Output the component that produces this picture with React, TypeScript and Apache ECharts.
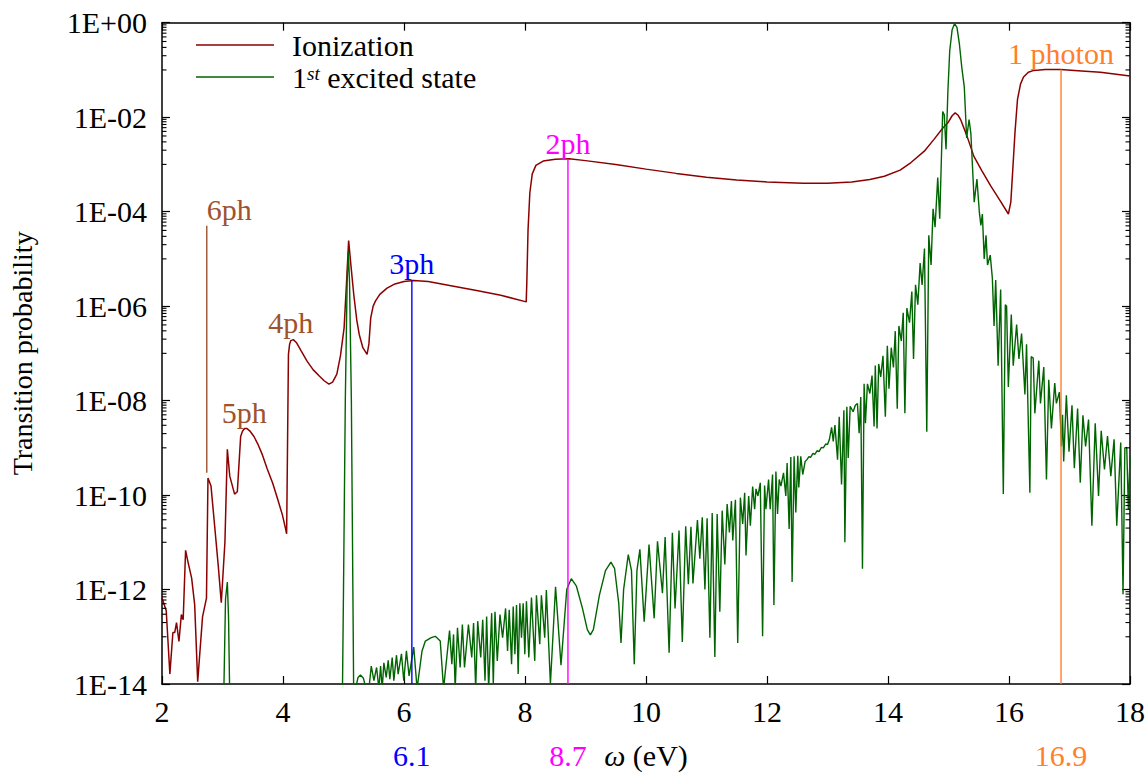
import React, { useEffect, useRef } from "react";
import * as echarts from "echarts";

// ---------- data: [omega (eV), log10(transition probability)] ----------
const ionization: number[][] = [
  [2.0, -12.18], [2.07, -12.45], [2.13, -13.79], [2.18, -12.91], [2.21, -12.91], [2.24, -12.7], [2.28, -13.1],
  [2.32, -12.53], [2.35, -12.64], [2.39, -11.17], [2.43, -11.42], [2.49, -11.76], [2.54, -12.32], [2.59, -13.95],
  [2.67, -12.58], [2.735, -12.18], [2.76, -9.64], [2.81, -9.81], [2.87, -10.65], [2.93, -11.5], [2.98, -12.28],
  [3.04, -11.0], [3.08, -9.03], [3.12, -9.6], [3.2, -9.98], [3.245, -9.93], [3.3, -8.76], [3.33, -8.65],
  [3.365, -8.59], [3.4, -8.59], [3.45, -8.64], [3.52, -8.76], [3.58, -8.91], [3.66, -9.15], [3.74, -9.45],
  [3.83, -9.75], [3.91, -10.08], [3.99, -10.42], [4.04, -10.7], [4.06, -10.82], [4.09, -7.02], [4.11, -6.8],
  [4.13, -6.73], [4.17, -6.71], [4.22, -6.77], [4.3, -6.95], [4.4, -7.17], [4.5, -7.35], [4.6, -7.48],
  [4.68, -7.58], [4.76, -7.65], [4.82, -7.61], [4.89, -7.44], [4.95, -7.05], [5.01, -6.46], [5.05, -5.5],
  [5.085, -4.61], [5.12, -5.1], [5.17, -5.76], [5.22, -6.3], [5.26, -6.6], [5.32, -6.88], [5.39, -7.02],
  [5.42, -6.8], [5.45, -6.25], [5.49, -6.0], [5.53, -5.89], [5.6, -5.75], [5.72, -5.62], [5.85, -5.53],
  [6.0, -5.48], [6.16, -5.46], [6.4, -5.48], [6.82, -5.58], [7.2, -5.67], [7.6, -5.77], [8.02, -5.91],
  [8.03, -5.5], [8.05, -4.4], [8.08, -3.6], [8.12, -3.2], [8.18, -3.02], [8.3, -2.93], [8.5, -2.89],
  [8.73, -2.88], [9.0, -2.92], [9.5, -3.0], [10.0, -3.1], [10.5, -3.19], [11.0, -3.27], [11.5, -3.33],
  [12.0, -3.37], [12.6, -3.4], [13.0, -3.4], [13.4, -3.37], [13.7, -3.32], [13.94, -3.25], [14.2, -3.12],
  [14.38, -2.96], [14.6, -2.72], [14.76, -2.47], [14.9, -2.24], [14.99, -2.12], [15.06, -1.97], [15.11, -1.91],
  [15.16, -1.96], [15.2, -2.05], [15.3, -2.38], [15.42, -2.83], [15.55, -3.13], [15.7, -3.46], [15.85, -3.76],
  [15.99, -4.05], [16.03, -3.8], [16.06, -3.16], [16.1, -2.3], [16.14, -1.63], [16.19, -1.3], [16.24, -1.15],
  [16.32, -1.05], [16.41, -1.01], [16.6, -0.99], [16.85, -0.99], [17.2, -1.02], [17.51, -1.05], [18.0, -1.13],
];

const excited: number[][] = [
  [2.0, -20], [2.99, -20], [3.02, -14.3], [3.05, -12.2], [3.08, -11.84], [3.1, -12.6], [3.12, -14.3], [3.15, -20],
  [4.95, -20], [4.98, -14.5], [5.0, -12.0], [5.03, -8.0], [5.06, -5.5], [5.08, -4.85], [5.1, -5.5], [5.13, -8.0],
  [5.155, -12.0], [5.17, -14.5], [5.2, -14.1], [5.24, -13.86], [5.28, -13.81], [5.33, -13.88], [5.37, -14.1],
  [5.42, -14.1], [5.459, -13.62], [5.503, -13.93], [5.547, -13.65], [5.585, -14.1], [5.613, -13.62], [5.64, -14.1],
  [5.667, -13.55], [5.706, -13.86], [5.739, -13.5], [5.766, -13.9], [5.805, -13.44], [5.832, -13.93], [5.876, -13.39],
  [5.903, -13.79], [5.958, -13.36], [5.996, -13.93], [6.04, -13.3], [6.084, -13.83], [6.161, -13.22], [6.216, -14.1],
  [6.298, -13.3], [6.353, -13.09], [6.45, -13.02], [6.517, -12.99], [6.599, -13.09], [6.654, -14.1],
  [6.753, -12.87], [6.791, -13.58], [6.819, -12.95], [6.846, -14.1], [6.884, -12.81], [6.928, -13.65], [6.965, -12.74],
  [7.0, -13.65], [7.065, -12.74], [7.12, -13.44], [7.15, -12.71], [7.185, -14.1], [7.218, -12.67], [7.268, -13.44],
  [7.301, -12.64], [7.339, -13.93], [7.366, -12.57], [7.399, -14.1], [7.449, -12.5], [7.476, -14.0], [7.504, -12.47],
  [7.542, -13.51], [7.586, -12.53], [7.63, -13.02], [7.679, -12.4], [7.712, -13.3], [7.739, -12.43], [7.778, -13.58],
  [7.805, -12.36], [7.833, -13.37], [7.86, -12.33], [7.887, -13.79], [7.915, -12.29], [7.942, -13.02], [7.97, -12.29],
  [7.997, -13.37], [8.024, -12.25], [8.063, -13.44], [8.107, -12.17], [8.161, -13.51], [8.189, -12.12], [8.244, -13.16],
  [8.271, -12.12], [8.326, -13.02], [8.353, -12.01], [8.42, -14.0], [8.505, -11.94], [8.595, -13.6], [8.69, -12.0],
  [8.765, -11.77], [8.85, -11.93], [8.95, -12.4], [9.03, -12.85], [9.08, -12.96], [9.13, -12.85], [9.23, -12.12],
  [9.33, -11.6], [9.42, -11.42], [9.48, -11.55], [9.55, -12.3], [9.587, -13.13], [9.63, -12.0], [9.707, -11.26],
  [9.76, -11.6], [9.806, -13.58], [9.85, -11.6], [9.899, -11.15], [9.97, -12.68], [10.05, -11.05], [10.135, -12.61],
  [10.19, -10.98], [10.272, -12.08], [10.316, -10.89], [10.382, -13.34], [10.436, -10.8], [10.48, -12.4],
  [10.546, -10.75], [10.6, -13.11], [10.656, -10.66], [10.7, -11.89], [10.743, -10.67], [10.776, -11.87],
  [10.85, -10.53], [10.89, -11.35], [10.93, -10.47], [10.974, -12.0], [11.01, -10.49], [11.056, -13.02],
  [11.094, -10.38], [11.138, -13.43], [11.176, -10.4], [11.22, -12.47], [11.259, -10.33], [11.303, -11.47],
  [11.341, -10.19], [11.379, -10.79], [11.412, -10.125], [11.434, -10.96], [11.478, -10.1], [11.516, -13.13],
  [11.56, -10.055], [11.598, -10.61], [11.631, -9.95], [11.653, -11.28], [11.697, -10.02], [11.725, -10.65],
  [11.763, -9.82], [11.796, -10.3], [11.818, -9.87], [11.85, -10.02], [11.889, -9.74], [11.927, -12.99],
  [11.96, -9.8], [11.982, -10.3], [12.026, -9.67], [12.053, -10.3], [12.092, -9.565], [12.114, -12.33],
  [12.147, -9.5], [12.174, -10.4], [12.202, -9.67], [12.23, -9.81], [12.273, -9.53], [12.311, -10.02],
  [12.333, -9.32], [12.366, -10.72], [12.394, -9.195], [12.415, -11.84], [12.448, -9.18], [12.476, -10.37],
  [12.509, -9.167], [12.525, -9.84], [12.558, -9.18], [12.591, -9.565], [12.63, -9.29], [12.66, -9.25],
  [12.69, -9.19], [12.72, -9.2], [12.76, -9.12], [12.79, -9.14], [12.83, -9.06], [12.86, -9.08], [12.9, -8.99],
  [12.93, -9.0], [12.97, -8.92], [13.0, -8.93], [13.03, -8.83], [13.068, -8.566], [13.095, -8.866], [13.123, -8.517],
  [13.166, -9.25], [13.194, -8.342], [13.232, -9.775], [13.271, -8.203], [13.287, -11.0], [13.32, -8.133],
  [13.342, -9.216], [13.375, -8.119], [13.424, -8.237], [13.46, -8.1], [13.495, -8.063], [13.523, -8.692],
  [13.55, -7.923], [13.578, -11.56], [13.605, -7.645], [13.627, -8.48], [13.66, -7.645], [13.7, -7.85],
  [13.736, -7.47], [13.77, -8.55], [13.79, -7.26], [13.819, -8.59], [13.846, -7.225], [13.88, -7.5],
  [13.917, -7.05], [13.956, -8.34], [13.989, -6.84], [14.016, -7.75], [14.054, -6.88], [14.09, -7.3],
  [14.12, -6.53], [14.153, -8.17], [14.18, -6.42], [14.22, -6.74], [14.252, -6.14], [14.279, -8.27],
  [14.312, -6.04], [14.356, -6.35], [14.394, -5.69], [14.422, -7.12], [14.455, -5.55], [14.493, -5.97],
  [14.531, -5.09], [14.564, -5.55], [14.603, -4.78], [14.641, -8.66], [14.674, -4.5], [14.712, -5.13],
  [14.745, -3.94], [14.778, -4.33], [14.822, -3.28], [14.855, -4.15], [14.904, -1.88], [14.93, -1.95],
  [14.959, -2.68], [14.99, -1.45], [15.02, -0.6], [15.06, -0.15], [15.1, -0.02], [15.14, -0.1], [15.18, -0.45],
  [15.22, -0.95], [15.261, -1.36], [15.3, -2.44], [15.34, -2.05], [15.37, -2.35], [15.425, -3.8], [15.47, -3.31],
  [15.51, -4.01], [15.535, -4.29], [15.56, -4.05], [15.59, -5.0], [15.62, -4.5], [15.645, -5.13], [15.69, -4.92],
  [15.725, -5.41], [15.753, -6.42], [15.78, -5.45], [15.82, -7.26], [15.862, -5.65], [15.906, -9.98],
  [15.939, -5.97], [15.96, -6.0], [15.989, -7.71], [16.038, -6.18], [16.07, -7.26], [16.126, -6.39],
  [16.164, -7.12], [16.208, -6.58], [16.263, -7.87], [16.29, -6.81], [16.345, -9.95], [16.367, -7.07],
  [16.4, -7.1], [16.427, -8.27], [16.493, -7.155], [16.52, -8.06], [16.575, -7.29], [16.619, -9.67],
  [16.657, -7.56], [16.701, -8.59], [16.756, -7.63], [16.783, -8.06], [16.833, -7.82], [16.866, -8.97],
  [16.885, -8.3], [16.904, -9.29], [16.948, -7.89], [16.992, -9.08], [17.041, -8.1], [17.08, -9.43],
  [17.134, -8.17], [17.178, -9.74], [17.222, -8.31], [17.266, -8.97], [17.315, -8.4], [17.37, -10.65],
  [17.425, -8.48], [17.48, -10.02], [17.524, -8.64], [17.578, -9.46], [17.628, -8.75], [17.683, -9.6],
  [17.737, -8.82], [17.781, -10.65], [17.847, -8.89], [17.885, -12.1], [17.915, -9.0], [17.946, -8.99],
  [17.973, -10.3], [18.0, -9.2],
];

// vertical photon-order markers
const markerOmega = [2.74, 6.13, 8.71, 16.86];
const markerLowLog = [-9.53, -14, -14, -14];
const markerHighLog = [-4.3, -5.44, -2.89, -0.99];
const markerTopLabels = ["6ph", "3ph", "2ph", "1 photon"];
const markerAxisLabels = ["", "6.1", "8.7", "16.9"];
const markerColors = ["#a0522d", "#0000ff", "#ff00ff", "#ff7f2a"];

// free annotations
const noteOmega = [3.36, 4.13];
const noteLog = [-8.26, -6.35];
const noteLabels = ["5ph", "4ph"];

// axis ticks
const xTickValues = [2, 4, 6, 8, 10, 12, 14, 16, 18];
const yMajorExponents = [-14, -12, -10, -8, -6, -4, -2, 0];
const yMinorMantissas = [1, 2, 3, 4, 5, 6, 7, 8, 9];
const yMinorExponents = [-13, -11, -9, -7, -5, -3, -1];

const FONT = "'Liberation Serif', 'DejaVu Serif', serif";
const FS = 30;

function formatExp(v: number): string {
  const e = Math.round(Math.log10(v));
  const s = e < 0 ? "-" : "+";
  const a = Math.abs(e);
  return "1E" + s + (a < 10 ? "0" + a : String(a));
}

export default function App() {
  const ref = useRef<HTMLDivElement>(null);

  useEffect(() => {
    if (!ref.current) return;
    const chart = echarts.init(ref.current, null, { renderer: "svg" });

    const toPts = (arr: number[][]) => arr.map((p) => [p[0], Math.pow(10, p[1])]);
    const minorData: number[][] = [];
    yMinorExponents.forEach((e) =>
      yMinorMantissas.forEach((m) => minorData.push([xTickValues[0], m * Math.pow(10, e)]))
    );
    const markerData = markerOmega.map((x, i) => [x, Math.pow(10, markerLowLog[i]), Math.pow(10, markerHighLog[i])]);
    const noteData = noteOmega.map((x, i) => [x, Math.pow(10, noteLog[i])]);

    const axisLineStyle = { color: "#000", width: 1.5 };
    const tickStyle = { color: "#000", width: 1.2 };
    const yMin = Math.pow(10, yMajorExponents[0]);
    const yMax = Math.pow(10, yMajorExponents[yMajorExponents.length - 1]);

    const option: any = {
      animation: false,
      backgroundColor: "#ffffff",
      textStyle: { fontFamily: FONT },
      grid: { left: 158.5, right: 18, top: 22.7, bottom: 84, containLabel: false },
      legend: {
        data: ["Ionization", "1st excited state"],
        orient: "vertical",
        left: 196,
        top: 30,
        padding: 0,
        itemGap: 2,
        itemWidth: 78,
        itemHeight: 1.6,
        icon: "rect",
        selectedMode: false,
        formatter: (name: string) =>
          name === "Ionization" ? "{g|}Ionization" : "{g|}1{sup|st} excited state",
        textStyle: {
          fontFamily: FONT,
          fontSize: FS,
          lineHeight: 26,
          color: "#000",
          rich: {
            g: { width: 13 },
            sup: { fontFamily: FONT, fontSize: 19, fontStyle: "italic", verticalAlign: "top", lineHeight: 16, color: "#000" },
          },
        },
      },
      xAxis: [
        {
          type: "value",
          min: xTickValues[0],
          max: xTickValues[xTickValues.length - 1],
          interval: 2,
          position: "bottom",
          name: "{i|ω} (eV)",
          nameLocation: "middle",
          nameGap: 56,
          nameTextStyle: {
            fontFamily: FONT,
            fontSize: FS,
            color: "#000",
            rich: { i: { fontFamily: FONT, fontSize: FS, fontStyle: "italic", color: "#000" } },
          },
          axisLine: { show: true, lineStyle: axisLineStyle },
          axisTick: { show: true, inside: true, length: 8, lineStyle: tickStyle },
          axisLabel: { fontFamily: FONT, fontSize: FS, color: "#000", margin: 12 },
          splitLine: { show: false },
        },
        {
          type: "value",
          min: xTickValues[0],
          max: xTickValues[xTickValues.length - 1],
          interval: 2,
          position: "top",
          axisLine: { show: true, lineStyle: axisLineStyle },
          axisTick: { show: true, inside: true, length: 8, lineStyle: tickStyle },
          axisLabel: { show: false },
          splitLine: { show: false },
        },
      ],
      yAxis: [
        {
          type: "log",
          logBase: 10,
          min: yMin,
          max: yMax,
          interval: 2,
          position: "left",
          name: "Transition probability",
          nameLocation: "middle",
          nameGap: 126,
          nameTextStyle: { fontFamily: FONT, fontSize: 28, color: "#000" },
          axisLine: { show: true, lineStyle: axisLineStyle },
          axisTick: { show: true, inside: true, length: 8, lineStyle: tickStyle },
          axisLabel: { fontFamily: FONT, fontSize: FS, color: "#000", margin: 15, formatter: formatExp },
          splitLine: { show: false },
          minorTick: { show: false },
        },
        {
          type: "log",
          logBase: 10,
          min: yMin,
          max: yMax,
          interval: 2,
          position: "right",
          axisLine: { show: true, lineStyle: axisLineStyle },
          axisTick: { show: true, inside: true, length: 8, lineStyle: tickStyle },
          axisLabel: { show: false },
          splitLine: { show: false },
          minorTick: { show: false },
        },
      ],
      series: [
        {
          name: "Ionization",
          type: "line",
          data: toPts(ionization),
          symbol: "none",
          showSymbol: false,
          clip: true,
          lineStyle: { color: "#8b0000", width: 1.5 },
          itemStyle: { color: "#8b0000" },
          z: 3,
        },
        {
          name: "1st excited state",
          type: "line",
          data: toPts(excited),
          symbol: "none",
          showSymbol: false,
          clip: true,
          lineStyle: { color: "#006400", width: 1.4 },
          itemStyle: { color: "#006400" },
          z: 4,
        },
        {
          name: "minorTicks",
          type: "custom",
          silent: true,
          clip: false,
          data: minorData,
          encode: { x: 0, y: 1 },
          z: 5,
          renderItem: (params: any, api: any) => {
            const cs = params.coordSys;
            const y = api.coord([api.value(0), api.value(1)])[1];
            return {
              type: "group",
              children: [
                { type: "line", shape: { x1: cs.x, y1: y, x2: cs.x + 4.5, y2: y }, style: { stroke: "#000", lineWidth: 1.1 } },
                {
                  type: "line",
                  shape: { x1: cs.x + cs.width - 4.5, y1: y, x2: cs.x + cs.width, y2: y },
                  style: { stroke: "#000", lineWidth: 1.1 },
                },
              ],
            };
          },
        },
        {
          name: "markers",
          type: "custom",
          silent: true,
          clip: false,
          data: markerData,
          encode: { x: 0, y: [1, 2] },
          z: 6,
          renderItem: (params: any, api: any) => {
            const i = params.dataIndex;
            const cs = params.coordSys;
            const lo = api.coord([api.value(0), api.value(1)]);
            const hi = api.coord([api.value(0), api.value(2)]);
            const color = markerColors[i];
            const children: any[] = [
              { type: "line", shape: { x1: lo[0], y1: lo[1], x2: hi[0], y2: hi[1] }, style: { stroke: color, lineWidth: 1.4 } },
              {
                type: "text",
                x: hi[0],
                y: hi[1] - 1,
                style: {
                  text: markerTopLabels[i],
                  fill: color,
                  fontFamily: FONT,
                  fontSize: FS,
                  align: i === 0 ? "left" : "center",
                  verticalAlign: "bottom",
                },
              },
            ];
            if (markerAxisLabels[i]) {
              children.push({
                type: "text",
                x: lo[0],
                y: cs.y + cs.height + 71,
                style: {
                  text: markerAxisLabels[i],
                  fill: color,
                  fontFamily: FONT,
                  fontSize: FS,
                  align: "center",
                  verticalAlign: "middle",
                },
              });
            }
            return { type: "group", children };
          },
        },
        {
          name: "notes",
          type: "custom",
          silent: true,
          clip: false,
          data: noteData,
          encode: { x: 0, y: 1 },
          z: 6,
          renderItem: (params: any, api: any) => {
            const p = api.coord([api.value(0), api.value(1)]);
            return {
              type: "text",
              x: p[0],
              y: p[1],
              style: {
                text: noteLabels[params.dataIndex],
                fill: markerColors[0],
                fontFamily: FONT,
                fontSize: FS,
                align: "center",
                verticalAlign: "middle",
              },
            };
          },
        },
      ],
    };

    chart.setOption(option);
    return () => chart.dispose();
  }, []);

  return (
    <div
      ref={ref}
      style={{ position: "fixed", left: 0, top: 0, width: 1148, height: 775, background: "#fff" }}
    />
  );
}
